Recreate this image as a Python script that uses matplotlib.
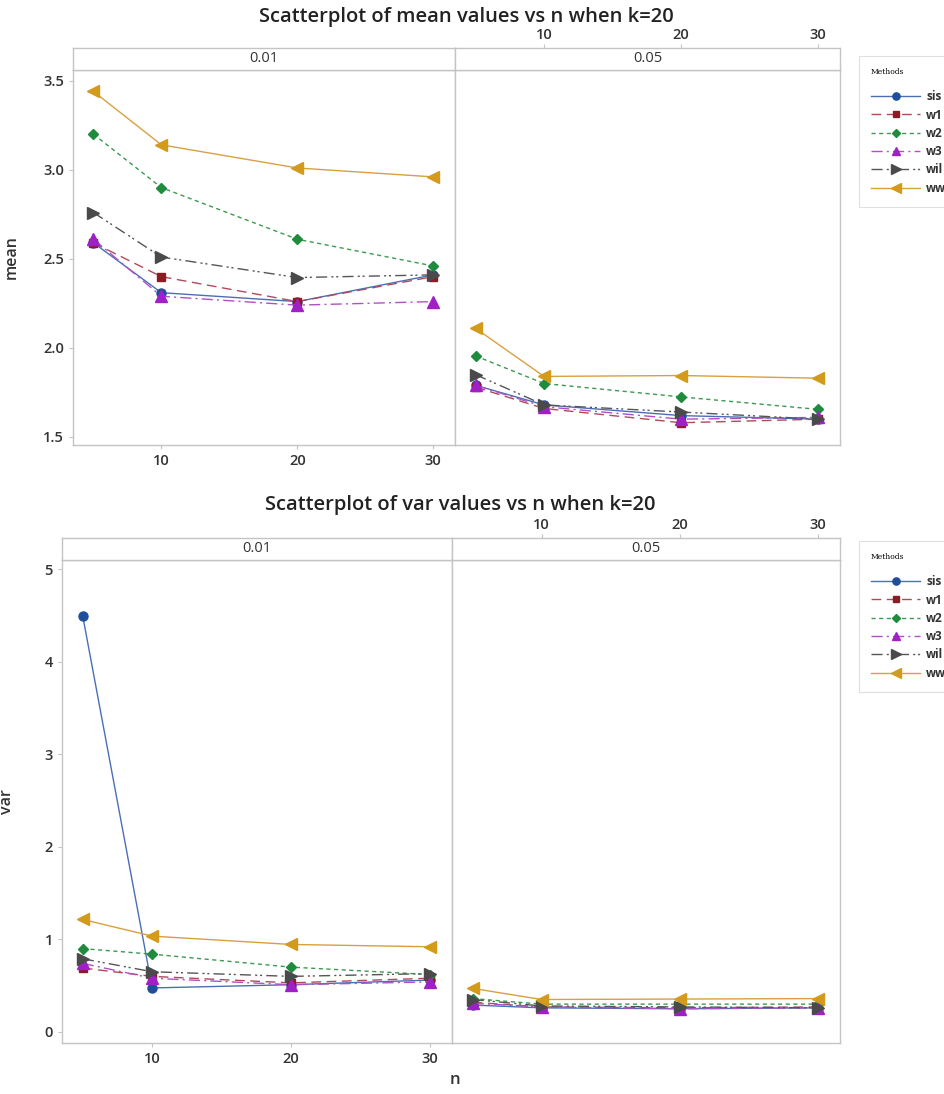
import matplotlib
matplotlib.use("Agg")
import matplotlib.pyplot as plt

plt.rcParams['font.family'] = ['Open Sans', 'DejaVu Sans']

W, H = 945, 1094

n = [5, 10, 20, 30]
methods = ['sis', 'w1', 'w2', 'w3', 'wil', 'ww']
alphas = ['0.01', '0.05']

mean_a01 = {
    'sis': [2.59, 2.31, 2.26, 2.41],
    'w1': [2.59, 2.40, 2.26, 2.40],
    'w2': [3.20, 2.90, 2.61, 2.46],
    'w3': [2.61, 2.29, 2.24, 2.26],
    'wil': [2.76, 2.51, 2.395, 2.41],
    'ww': [3.44, 3.14, 3.01, 2.96],
}
mean_a05 = {
    'sis': [1.79, 1.68, 1.62, 1.60],
    'w1': [1.78, 1.66, 1.58, 1.60],
    'w2': [1.955, 1.80, 1.725, 1.655],
    'w3': [1.79, 1.67, 1.60, 1.61],
    'wil': [1.85, 1.68, 1.64, 1.60],
    'ww': [2.11, 1.84, 1.845, 1.83],
}
var_a01 = {
    'sis': [4.49, 0.475, 0.51, 0.56],
    'w1': [0.69, 0.60, 0.53, 0.58],
    'w2': [0.90, 0.84, 0.70, 0.62],
    'w3': [0.74, 0.58, 0.51, 0.54],
    'wil': [0.79, 0.65, 0.60, 0.63],
    'ww': [1.215, 1.035, 0.945, 0.92],
}
var_a05 = {
    'sis': [0.29, 0.26, 0.25, 0.26],
    'w1': [0.32, 0.27, 0.26, 0.27],
    'w2': [0.36, 0.30, 0.30, 0.30],
    'w3': [0.31, 0.27, 0.25, 0.26],
    'wil': [0.35, 0.28, 0.27, 0.26],
    'ww': [0.47, 0.35, 0.355, 0.36],
}

# marker, marker colour, line colour, linestyle, marker size
style = {
    'sis': ('o', '#1f4e9a', '#4a6fb5', '-', 6.5),
    'w1': ('s', '#8c1c24', '#b04a5a', (0, (7, 4)), 6),
    'w2': ('D', '#1e8c3c', '#3a9a50', (0, (3, 2.5)), 5.5),
    'w3': ('^', '#a020c8', '#b050c8', (0, (8, 3, 1.5, 3)), 8),
    'wil': ('>', '#4a4a4a', '#555555', (0, (8, 3, 1.5, 2, 1.5, 3)), 8.5),
    'ww': ('<', '#d49a1c', '#d8a040', '-', 9),
}

edge = '#c4c4c4'
tcol = '#333333'


def rect(x0, y0, x1, y1):
    return [x0 / W, 1 - y1 / H, (x1 - x0) / W, (y1 - y0) / H]


fig = plt.figure(figsize=(W / 100, H / 100), dpi=100)


def facet(panels, title, ylabel, ylim, yticks, x0, xm, x1, ytop, ystrip, ybot, title_y):
    axes = []
    for i, (alpha, data) in enumerate(zip(alphas, panels)):
        xa, xb = (x0, xm) if i == 0 else (xm, x1)
        ax = fig.add_axes(rect(xa, ystrip, xb, ybot))
        st = fig.add_axes(rect(xa, ytop, xb, ystrip), sharex=ax)
        for m in methods:
            mk, mc, lc, ls, ms = style[m]
            ax.plot(n, data[m], color=lc, linestyle=ls, linewidth=1.0,
                    marker=mk, markersize=ms, markerfacecolor=mc,
                    markeredgecolor=mc, label=m)
        ax.set_xlim(3.5, 31.6)
        ax.set_ylim(*ylim)
        ax.set_xticks([10, 20, 30])
        ax.set_yticks(yticks)
        for a in (ax, st):
            for s in a.spines.values():
                s.set_color(edge)
                s.set_linewidth(1.0)
        st.set_yticks([])
        st.text(0.5, 0.5, alpha, transform=st.transAxes, ha='center',
                va='center', fontsize=10.5, color=tcol)
        ax.tick_params(colors=edge, labelcolor=tcol, labelsize=10.5, length=3)
        st.tick_params(colors=edge, labelcolor=tcol, labelsize=10.5, length=3)
        if i == 0:
            ax.tick_params(axis='x', labelbottom=True)
            st.tick_params(axis='x', bottom=False, labelbottom=False)
        else:
            ax.tick_params(axis='x', bottom=False, labelbottom=False)
            ax.tick_params(axis='y', left=False, labelleft=False)
            st.tick_params(axis='x', bottom=False, labelbottom=False,
                           top=True, labeltop=True, pad=1)
        for lab in ax.get_xticklabels() + ax.get_yticklabels() + st.get_xticklabels():
            lab.set_fontweight('semibold')
        axes.append(ax)
    axes[0].set_ylabel(ylabel, fontsize=11.5, color=tcol, labelpad=8,
                       fontweight='semibold')
    fig.text((x0 + x1) / 2 / W + 0.01, 1 - title_y / H, title,
             ha='center', va='center', fontsize=14.5, color='#222222',
             fontweight='semibold')
    return axes


top = facet([mean_a01, mean_a05], 'Scatterplot of mean values vs n when k=20',
            'mean', (1.455, 3.56), [1.5, 2.0, 2.5, 3.0, 3.5],
            73, 455, 840, 48, 70, 445, 17)
bot = facet([var_a01, var_a05], 'Scatterplot of var values vs n when k=20',
            'var', (-0.12, 5.1), [0, 1, 2, 3, 4, 5],
            62, 452, 840, 538, 560, 1043, 505)
top[0].yaxis.set_label_coords(-0.14, 0.5)
bot[0].yaxis.set_label_coords(-0.12, 0.5)

fig.text(455 / W, 1 - 1080 / H, 'n', ha='center', va='center',
         fontsize=12, color=tcol, fontweight='semibold')

for axs, ytop in ((top, 50), (bot, 535)):
    h, l = axs[0].get_legend_handles_labels()
    leg = fig.legend(h, l, loc='upper left',
                     bbox_to_anchor=(853 / W, 1 - ytop / H),
                     title='Methods\n', alignment='left', fontsize=8.5,
                     title_fontproperties={'family': 'DejaVu Serif', 'size': 5.5},
                     frameon=True, fancybox=False, edgecolor='#d8d8d8',
                     handlelength=4.2, handletextpad=0.5, labelspacing=0.45,
                     borderpad=1.0, markerscale=0.8)
    leg.get_frame().set_linewidth(0.8)
    for t in leg.get_texts():
        t.set_color(tcol)
        t.set_fontweight('bold')

fig.savefig('out.png', dpi=100)
